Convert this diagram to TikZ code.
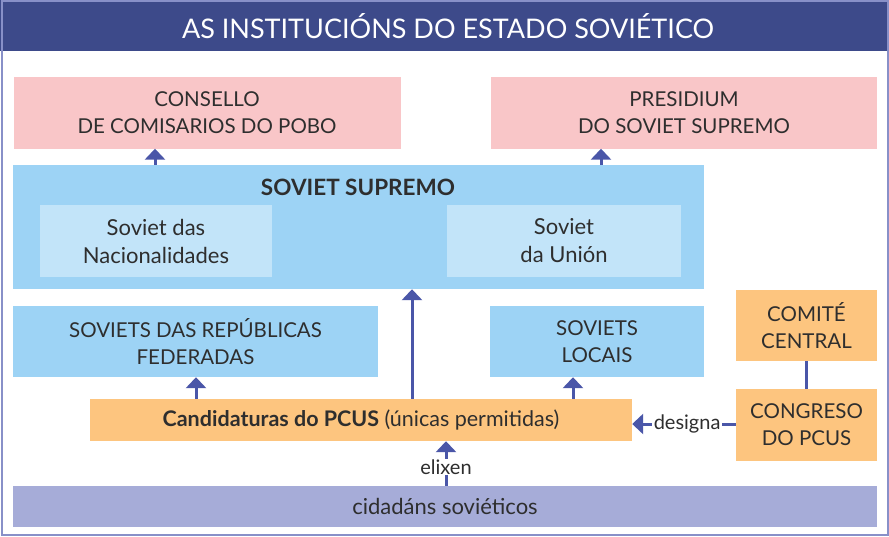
\documentclass[tikz,border=0pt]{standalone}
\usepackage{fontspec}
\setmainfont{Lato}
\usetikzlibrary{arrows.meta}
\definecolor{titlebg}{HTML}{3D4A8A}
\definecolor{frame}{HTML}{8890C8}
\definecolor{pinkbox}{HTML}{F9C6C8}
\definecolor{bluebox}{HTML}{9DD3F5}
\definecolor{lightblue}{HTML}{C2E4F9}
\definecolor{orangebox}{HTML}{FDC57F}
\definecolor{lilac}{HTML}{A6ACD8}
\definecolor{arrowc}{HTML}{4A56A8}
\definecolor{txt}{HTML}{2E2E2E}
\tikzset{
  box/.style={draw=none, inner sep=0pt, align=center, text=txt, font=\fontsize{20.5}{27}\selectfont},
  lowbox/.style={box, font=\fontsize{22}{28}\selectfont},
  arr/.style={draw=arrowc, line width=3pt, -{Triangle[width=20pt,length=11pt]}},
  lnk/.style={draw=arrowc, line width=3pt},
  lbl/.style={fill=white, inner sep=1.5pt, text=txt, font=\fontsize{20}{24}\selectfont}
}
\begin{document}
\begin{tikzpicture}[x=1pt,y=-1pt]
\useasboundingbox (0,0) rectangle (889,536);
\fill[white] (0,0) rectangle (889,536);
\fill[titlebg] (0,0) rectangle (889,51);
\draw[frame, line width=2pt] (1.5,1) rectangle (887.5,534.5);
\node[text=white, font=\fontsize{27}{30}\selectfont] (title) at (448,26) {AS INSTITUCIÓNS DO ESTADO SOVIÉTICO};

\node[box, fill=pinkbox, minimum width=387pt, minimum height=72pt] (cons) at (207,112.5) {CONSELLO\\DE COMISARIOS DO POBO};
\node[box, fill=pinkbox, minimum width=386pt, minimum height=72pt] (pres) at (684,112.5) {PRESIDIUM\\DO SOVIET SUPREMO};

\node[box, fill=bluebox, minimum width=691pt, minimum height=124pt] (ss) at (358.5,227) {};
\node[box, font=\fontsize{22.5}{26}\selectfont\bfseries] (sstitle) at (358,187) {SOVIET SUPREMO};
\node[lowbox, fill=lightblue, minimum width=232pt, minimum height=72pt] (nac) at (156,241) {Soviet das\\Nacionalidades};
\node[lowbox, fill=lightblue, minimum width=234pt, minimum height=72pt] (uni) at (564,241) {Soviet\\da Unión};

\node[box, fill=bluebox, minimum width=365pt, minimum height=71pt] (fed) at (195.5,341.5) {SOVIETS DAS REPÚBLICAS\\FEDERADAS};
\node[box, fill=bluebox, minimum width=214pt, minimum height=71pt] (loc) at (597,341.5) {SOVIETS\\LOCAIS};
\node[box, fill=orangebox, minimum width=141pt, minimum height=71pt] (com) at (806.5,325.5) {COMITÉ\\CENTRAL};
\node[box, fill=orangebox, minimum width=141pt, minimum height=72pt] (cong) at (806.5,425) {CONGRESO\\DO PCUS};
\node[box, font=\fontsize{21.5}{26}\selectfont, fill=orangebox, minimum width=542pt, minimum height=42pt] (cand) at (361,420) {\textbf{Candidaturas do PCUS} (únicas permitidas)};
\node[lowbox, fill=lilac, minimum width=864pt, minimum height=41pt] (cid) at (445,506.5) {cidadáns soviéticos};

\coordinate (xcons) at (155,0);
\coordinate (xpres) at (601,0);
\coordinate (xss) at (412,0);
\coordinate (xfed) at (196,0);
\coordinate (xloc) at (573,0);
\coordinate (xel) at (446,0);

\draw[arr] (ss.north -| xcons) -- (cons.south -| xcons);
\draw[arr] (ss.north -| xpres) -- (pres.south -| xpres);
\draw[arr] (cand.north -| xss) -- (ss.south -| xss);
\draw[arr] (cand.north -| xfed) -- (fed.south -| xfed);
\draw[arr] (cand.north -| xloc) -- (loc.south -| xloc);
\draw[lnk] (com.south) -- (cong.north);
\draw[arr] (cong.west |- 0,424) -- node[lbl, pos=0.47] {designa} (cand.east |- 0,424);
\draw[arr] (cid.north -| xel) -- node[lbl, pos=0.42, inner sep=0.5pt] {elixen} (cand.south -| xel);
\end{tikzpicture}
\end{document}
